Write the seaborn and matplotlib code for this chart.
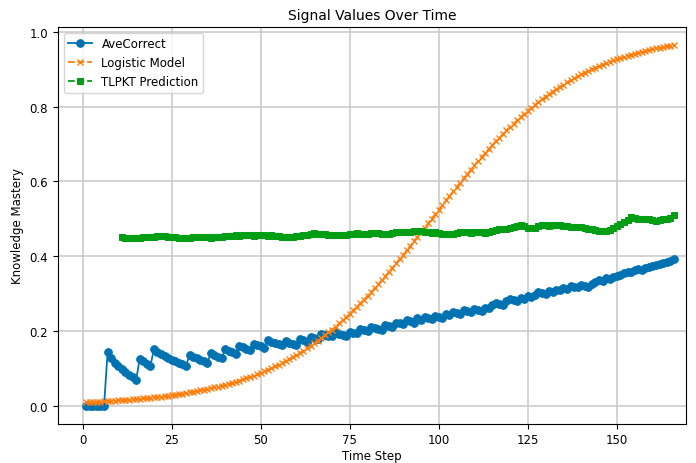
import numpy as np
import pandas as pd
import matplotlib
matplotlib.use("Agg")
import matplotlib.pyplot as plt
from matplotlib.ticker import MultipleLocator
import seaborn as sns

# time steps
steps = list(range(1, 167))

# average correctness per step
ave_correct = [
    0.0, 0.0, 0.0, 0.0, 0.0, 0.0, 0.143, 0.128, 0.115, 0.105,
    0.097, 0.090, 0.083, 0.077, 0.068, 0.124, 0.118, 0.112, 0.106, 0.150,
    0.143, 0.137, 0.132, 0.127, 0.122, 0.118, 0.114, 0.110, 0.106, 0.135,
    0.130, 0.126, 0.122, 0.118, 0.114, 0.140, 0.135, 0.131, 0.127, 0.150,
    0.146, 0.142, 0.138, 0.160, 0.156, 0.152, 0.148, 0.165, 0.162, 0.158,
    0.155, 0.175, 0.170, 0.167, 0.164, 0.161, 0.172, 0.168, 0.165, 0.163,
    0.178, 0.174, 0.171, 0.183, 0.180, 0.177, 0.192, 0.189, 0.187, 0.185,
    0.196, 0.192, 0.189, 0.187, 0.198, 0.195, 0.193, 0.205, 0.202, 0.200,
    0.210, 0.208, 0.205, 0.203, 0.215, 0.212, 0.210, 0.222, 0.220, 0.217,
    0.228, 0.225, 0.222, 0.233, 0.230, 0.238, 0.235, 0.232, 0.240, 0.237,
    0.235, 0.246, 0.243, 0.250, 0.247, 0.245, 0.255, 0.252, 0.250, 0.258,
    0.256, 0.253, 0.262, 0.260, 0.268, 0.275, 0.272, 0.270, 0.280, 0.285,
    0.282, 0.280, 0.288, 0.286, 0.292, 0.290, 0.297, 0.303, 0.300, 0.298,
    0.307, 0.305, 0.310, 0.308, 0.315, 0.313, 0.320, 0.318, 0.316, 0.323,
    0.320, 0.318, 0.325, 0.330, 0.335, 0.333, 0.340, 0.338, 0.343, 0.347,
    0.350, 0.355, 0.358, 0.356, 0.362, 0.365, 0.363, 0.367, 0.370, 0.373,
    0.376, 0.379, 0.382, 0.385, 0.388, 0.391,
]

# logistic model fit values
logistic = [
    0.0087, 0.0092, 0.0096, 0.0101, 0.0106, 0.0111, 0.0117, 0.0122, 0.0128, 0.0135,
    0.0141, 0.0148, 0.0156, 0.0163, 0.0171, 0.0180, 0.0189, 0.0198, 0.0207, 0.0218,
    0.0228, 0.0239, 0.0251, 0.0263, 0.0276, 0.0289, 0.0304, 0.0318, 0.0334, 0.0350,
    0.0367, 0.0384, 0.0403, 0.0422, 0.0442, 0.0463, 0.0485, 0.0508, 0.0532, 0.0557,
    0.0584, 0.0611, 0.0640, 0.0669, 0.0701, 0.0733, 0.0767, 0.0802, 0.0839, 0.0877,
    0.0917, 0.0958, 0.1002, 0.1046, 0.1093, 0.1141, 0.1192, 0.1244, 0.1298, 0.1354,
    0.1412, 0.1472, 0.1535, 0.1599, 0.1666, 0.1735, 0.1806, 0.1879, 0.1955, 0.2032,
    0.2113, 0.2195, 0.2280, 0.2367, 0.2456, 0.2548, 0.2641, 0.2737, 0.2835, 0.2935,
    0.3038, 0.3142, 0.3248, 0.3356, 0.3465, 0.3577, 0.3690, 0.3804, 0.3920, 0.4036,
    0.4154, 0.4273, 0.4393, 0.4514, 0.4635, 0.4756, 0.4878, 0.5000, 0.5122, 0.5244,
    0.5365, 0.5486, 0.5607, 0.5727, 0.5846, 0.5964, 0.6080, 0.6196, 0.6310, 0.6423,
    0.6535, 0.6644, 0.6752, 0.6858, 0.6962, 0.7065, 0.7165, 0.7263, 0.7359, 0.7452,
    0.7544, 0.7633, 0.7720, 0.7805, 0.7887, 0.7968, 0.8045, 0.8121, 0.8194, 0.8265,
    0.8334, 0.8401, 0.8465, 0.8528, 0.8588, 0.8646, 0.8702, 0.8756, 0.8808, 0.8859,
    0.8907, 0.8954, 0.8998, 0.9042, 0.9083, 0.9122, 0.9161, 0.9198, 0.9233, 0.9267,
    0.9299, 0.9331, 0.9360, 0.9389, 0.9416, 0.9443, 0.9468, 0.9492, 0.9514, 0.9537,
    0.9558, 0.9578, 0.9597, 0.9616, 0.9633, 0.9650,
]

# TLPKT prediction starts at step 11
tlpkt_steps = list(range(11, 167))
tlpkt = [
    0.450, 0.449, 0.449, 0.448, 0.449, 0.449, 0.450, 0.450, 0.451, 0.452,
    0.453, 0.454, 0.453, 0.452, 0.451, 0.450, 0.449, 0.449, 0.449, 0.449,
    0.450, 0.451, 0.451, 0.450, 0.450, 0.449, 0.450, 0.452, 0.452, 0.453,
    0.453, 0.454, 0.455, 0.454, 0.455, 0.456, 0.455, 0.454, 0.455, 0.456,
    0.455, 0.454, 0.455, 0.454, 0.453, 0.452, 0.452, 0.451, 0.452, 0.453,
    0.454, 0.455, 0.457, 0.459, 0.461, 0.460, 0.459, 0.458, 0.457, 0.456,
    0.456, 0.455, 0.456, 0.457, 0.459, 0.460, 0.461, 0.460, 0.459, 0.460,
    0.461, 0.462, 0.461, 0.460, 0.459, 0.460, 0.462, 0.464, 0.465, 0.464,
    0.463, 0.465, 0.467, 0.468, 0.466, 0.464, 0.463, 0.462, 0.463, 0.462,
    0.460, 0.459, 0.458, 0.460, 0.462, 0.463, 0.464, 0.463, 0.462, 0.463,
    0.464, 0.463, 0.462, 0.464, 0.467, 0.470, 0.472, 0.471, 0.473, 0.476,
    0.479, 0.481, 0.483, 0.480, 0.476, 0.474, 0.476, 0.480, 0.483, 0.482,
    0.481, 0.483, 0.484, 0.482, 0.480, 0.481, 0.479, 0.477, 0.478, 0.477,
    0.475, 0.473, 0.472, 0.470, 0.468, 0.466, 0.467, 0.470, 0.475, 0.480,
    0.485, 0.490, 0.497, 0.505, 0.503, 0.500, 0.498, 0.499, 0.500, 0.497,
    0.495, 0.496, 0.498, 0.500, 0.503, 0.510,
]

df = pd.DataFrame({'Time': steps, 'AveCorrect': ave_correct, 'Logistic': logistic})
df_tl = pd.DataFrame({'Time': tlpkt_steps, 'TLPKT': tlpkt})

blue, orange, green = '#0072b2', '#ff7f0e', '#009e14'

plt.rcParams['font.size'] = 8.5

fig, ax = plt.subplots(figsize=(6.96, 4.64), dpi=100)

sns.lineplot(data=df, x='Time', y='AveCorrect', ax=ax, color=blue, marker='o',
             markersize=5.5, markeredgecolor=blue, markerfacecolor=blue,
             linewidth=1.3, label='AveCorrect')
sns.lineplot(data=df, x='Time', y='Logistic', ax=ax, color=orange, marker='x',
             markersize=5, markeredgecolor=orange, markeredgewidth=1.0,
             linestyle='--', linewidth=1.3, label='Logistic Model')
sns.lineplot(data=df_tl, x='Time', y='TLPKT', ax=ax, color=green, marker='s',
             markersize=5, markeredgecolor=green, markerfacecolor=green,
             linestyle='--', linewidth=1.3, label='TLPKT Prediction')

ax.set_xlim(-7, 169.5)
ax.xaxis.set_major_locator(MultipleLocator(25))
ax.grid(True, color='#c8c8c8', linewidth=1.1)
ax.set_axisbelow(True)
ax.set_title('Signal Values Over Time', fontsize=10)
ax.set_xlabel('Time Step', labelpad=2)
ax.set_ylabel('Knowledge Mastery')
ax.legend(loc='upper left')

fig.subplots_adjust(left=0.083, right=0.986, top=0.94, bottom=0.085)
plt.savefig('out.png', dpi=100)
